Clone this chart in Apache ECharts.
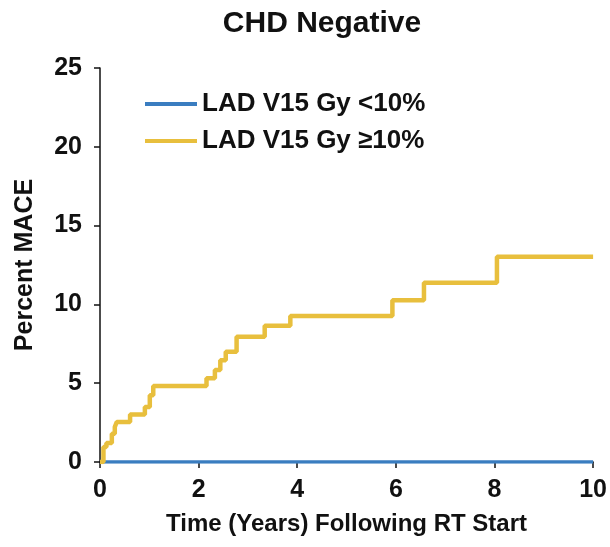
<!DOCTYPE html>
<html>
<head>
<meta charset="utf-8">
<script src="https://cdn.jsdelivr.net/npm/echarts@6/dist/echarts.min.js"></script>
<style>html,body{margin:0;padding:0;background:#fff}#c{width:610px;height:547px}</style>
</head>
<body>
<div id="c"></div>
<script>
var titleText = 'CHD Negative';
var seriesNames = ['LAD V15 Gy <10%', 'LAD V15 Gy \u226510%'];
var xTicks = [0, 2, 4, 6, 8, 10];
var yTicks = [0, 5, 10, 15, 20, 25];
var lowTime = [0, 10];
var lowValue = [0, 0];
var highTime = [0, 0.07, 0.13, 0.24, 0.30, 0.34, 0.61, 0.91, 1.01, 1.08, 2.16, 2.33, 2.44, 2.55, 2.77, 3.34, 3.86, 5.93, 6.57, 8.05, 10];
var highValue = [0, 0.95, 1.21, 1.80, 2.22, 2.54, 3.01, 3.49, 4.24, 4.83, 5.32, 5.83, 6.46, 6.99, 7.94, 8.64, 9.26, 10.27, 11.37, 13.02, 13.02];

var F = 'Liberation Sans, Arial, sans-serif';
function pairs(xs, ys) { return xs.map(function (x, i) { return [x, ys[i]]; }); }

var chart = echarts.init(document.getElementById('c'));
chart.setOption({
  animation: false,
  title: {
    text: titleText, left: 317, top: 4, textAlign: 'center',
    textStyle: { fontFamily: F, fontSize: 30, fontWeight: 'bold', color: '#111' }
  },
  legend: {
    orient: 'vertical', left: 140, top: 86, itemWidth: 52, itemHeight: 4, itemGap: 11,
    icon: 'rect',
    textStyle: { fontFamily: F, fontSize: 26, fontWeight: 'bold', color: '#111' },
    data: seriesNames
  },
  grid: { left: 100, right: 15.5, top: 68, bottom: 85, containLabel: false },
  xAxis: {
    type: 'value', min: xTicks[0], max: xTicks[xTicks.length - 1], interval: 2,
    name: 'Time (Years) Following RT Start', nameLocation: 'middle', nameGap: 50,
    nameTextStyle: { fontFamily: F, fontSize: 24, fontWeight: 'bold', color: '#111' },
    axisLine: { show: true, lineStyle: { color: '#111', width: 1.5 } },
    axisTick: { show: true, length: 6, inside: false, lineStyle: { color: '#111', width: 1.5 } },
    axisLabel: { margin: 16, fontFamily: F, fontSize: 25, fontWeight: 'bold', color: '#111' },
    splitLine: { show: false }
  },
  yAxis: {
    type: 'value', min: yTicks[0], max: yTicks[yTicks.length - 1], interval: 5,
    name: 'Percent MACE', nameLocation: 'middle', nameGap: 62, nameRotate: 90,
    nameTextStyle: { fontFamily: F, fontSize: 25, fontWeight: 'bold', color: '#111' },
    axisLine: { show: true, lineStyle: { color: '#111', width: 1.5 } },
    axisTick: { show: true, length: 6, inside: false, lineStyle: { color: '#111', width: 1.5 } },
    axisLabel: { margin: 18, fontFamily: F, fontSize: 25, fontWeight: 'bold', color: '#111' },
    splitLine: { show: false }
  },
  series: [
    {
      name: seriesNames[0], type: 'line', step: 'end', showSymbol: false, symbol: 'none',
      data: pairs(lowTime, lowValue),
      lineStyle: { color: '#3a7dc0', width: 3.5 }, itemStyle: { color: '#3a7dc0' }, z: 2
    },
    {
      name: seriesNames[1], type: 'line', step: 'end', showSymbol: false, symbol: 'none',
      data: pairs(highTime, highValue),
      lineStyle: { color: '#e8bf3d', width: 4.5 }, itemStyle: { color: '#e8bf3d' }, z: 3
    }
  ]
});
</script>
</body>
</html>
